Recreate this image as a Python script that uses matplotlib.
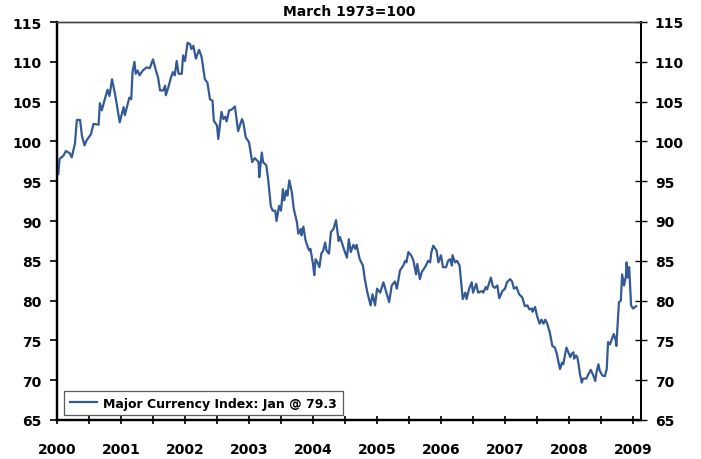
import numpy as np
import matplotlib
matplotlib.use("Agg")
import matplotlib.pyplot as plt
from matplotlib.ticker import MultipleLocator

# weekly-ish readings, decimal years
years = [2000.02, 2000.04, 2000.10, 2000.14, 2000.20, 2000.23, 2000.28, 2000.31, 2000.36, 2000.39,
         2000.43, 2000.46, 2000.53, 2000.57, 2000.65, 2000.67, 2000.70, 2000.74, 2000.79, 2000.82,
         2000.86, 2000.91, 2000.98, 2001.04, 2001.06, 2001.13, 2001.16, 2001.18, 2001.21, 2001.23,
         2001.26, 2001.29, 2001.34, 2001.40, 2001.45, 2001.50, 2001.55, 2001.58, 2001.61, 2001.66,
         2001.69, 2001.70, 2001.74, 2001.78, 2001.81, 2001.84, 2001.87, 2001.90, 2001.95, 2001.97,
         2002.00, 2002.04, 2002.08, 2002.10, 2002.13, 2002.17, 2002.22, 2002.26, 2002.31, 2002.35,
         2002.39, 2002.43, 2002.45, 2002.50, 2002.52, 2002.57, 2002.60, 2002.63, 2002.65, 2002.69,
         2002.73, 2002.78, 2002.83, 2002.89, 2002.91, 2002.95, 2003.00, 2003.05, 2003.09, 2003.15,
         2003.16, 2003.20, 2003.22, 2003.27, 2003.30, 2003.34, 2003.37, 2003.41, 2003.43, 2003.47,
         2003.50, 2003.53, 2003.55, 2003.58, 2003.60, 2003.63, 2003.67, 2003.70, 2003.75, 2003.77,
         2003.81, 2003.82, 2003.85, 2003.88, 2003.91, 2003.94, 2003.96, 2004.00, 2004.02, 2004.04,
         2004.07, 2004.10, 2004.13, 2004.16, 2004.19, 2004.21, 2004.25, 2004.28, 2004.32, 2004.36,
         2004.40, 2004.42, 2004.45, 2004.49, 2004.53, 2004.56, 2004.59, 2004.63, 2004.66, 2004.68,
         2004.71, 2004.73, 2004.78, 2004.81, 2004.85, 2004.90, 2004.93, 2004.97, 2005.00, 2005.05,
         2005.10, 2005.14, 2005.19, 2005.23, 2005.28, 2005.31, 2005.36, 2005.41, 2005.44, 2005.46,
         2005.49, 2005.54, 2005.57, 2005.61, 2005.63, 2005.67, 2005.70, 2005.75, 2005.80, 2005.83,
         2005.85, 2005.88, 2005.93, 2005.96, 2006.00, 2006.03, 2006.08, 2006.11, 2006.14, 2006.17,
         2006.18, 2006.22, 2006.25, 2006.29, 2006.34, 2006.38, 2006.40, 2006.44, 2006.48, 2006.50,
         2006.55, 2006.58, 2006.64, 2006.66, 2006.70, 2006.72, 2006.78, 2006.81, 2006.84, 2006.88,
         2006.91, 2006.96, 2007.00, 2007.03, 2007.08, 2007.11, 2007.14, 2007.18, 2007.22, 2007.27,
         2007.31, 2007.35, 2007.38, 2007.42, 2007.43, 2007.47, 2007.50, 2007.54, 2007.57, 2007.60,
         2007.63, 2007.66, 2007.70, 2007.74, 2007.78, 2007.81, 2007.83, 2007.86, 2007.89, 2007.91,
         2007.94, 2007.96, 2007.99, 2008.02, 2008.04, 2008.07, 2008.08, 2008.11, 2008.13, 2008.15,
         2008.17, 2008.20, 2008.22, 2008.27, 2008.30, 2008.34, 2008.38, 2008.41, 2008.43, 2008.46,
         2008.48, 2008.52, 2008.56, 2008.59, 2008.61, 2008.64, 2008.68, 2008.70, 2008.73, 2008.74,
         2008.78, 2008.81, 2008.83, 2008.86, 2008.89, 2008.90, 2008.92, 2008.94, 2008.97, 2009.00,
         2009.05]

index = [95.9, 97.8, 98.2, 98.8, 98.5, 98.0, 99.7, 102.7, 102.7, 100.7,
         99.5, 100.1, 100.9, 102.2, 102.1, 104.8, 103.9, 105.1, 106.5, 105.7,
         107.8, 105.8, 102.4, 104.3, 103.3, 105.5, 105.3, 108.7, 110.0, 108.5,
         108.9, 108.3, 108.9, 109.3, 109.2, 110.3, 108.8, 108.0, 106.4, 106.4,
         107.0, 105.8, 106.8, 108.0, 108.7, 108.3, 110.1, 108.5, 108.5, 110.8,
         110.1, 112.4, 112.2, 111.6, 112.0, 110.4, 111.5, 110.6, 107.8, 107.4,
         105.3, 105.1, 102.6, 102.0, 100.3, 103.7, 102.8, 103.1, 102.5, 103.9,
         104.0, 104.4, 101.3, 102.8, 102.4, 100.5, 99.9, 97.4, 97.9, 97.4,
         95.5, 98.6, 97.4, 97.0, 95.2, 91.9, 91.3, 91.3, 90.0, 91.9,
         91.3, 94.0, 92.6, 93.8, 93.2, 95.1, 93.6, 91.5, 89.8, 88.4,
         89.0, 88.2, 89.3, 87.7, 86.9, 86.3, 86.5, 84.6, 83.2, 85.2,
         84.8, 84.2, 85.9, 86.3, 87.3, 86.3, 85.9, 88.6, 89.0, 90.1,
         87.5, 88.0, 87.3, 86.3, 85.4, 87.7, 86.1, 87.0, 86.5, 87.0,
         85.9, 85.2, 84.4, 82.7, 81.0, 79.4, 80.8, 79.4, 81.5, 81.0,
         82.3, 81.2, 79.8, 81.9, 82.4, 81.5, 83.8, 84.4, 85.0, 84.8,
         86.1, 85.6, 85.0, 83.3, 84.6, 82.7, 83.6, 84.2, 85.0, 84.8,
         86.1, 86.9, 86.3, 84.8, 85.7, 84.2, 84.2, 85.0, 85.2, 84.4,
         85.7, 84.8, 85.0, 84.4, 80.2, 81.0, 80.2, 81.5, 82.3, 81.0,
         82.1, 81.0, 81.2, 81.0, 81.7, 81.4, 82.9, 81.8, 81.6, 81.9,
         80.3, 81.2, 81.5, 82.3, 82.7, 82.4, 81.5, 81.7, 80.8, 80.4,
         79.3, 79.4, 78.9, 79.0, 78.6, 79.2, 78.1, 77.1, 77.6, 77.1,
         77.6, 77.1, 76.0, 74.3, 74.1, 73.3, 72.5, 71.4, 72.2, 72.0,
         73.3, 74.1, 73.5, 72.9, 73.3, 73.5, 72.7, 73.1, 72.9, 72.0,
         70.8, 69.7, 70.2, 70.2, 70.7, 71.3, 70.6, 69.9, 71.0, 72.0,
         71.2, 70.6, 70.5, 71.4, 74.8, 74.5, 75.4, 75.8, 75.0, 74.3,
         79.8, 80.0, 83.3, 81.9, 83.1, 84.8, 82.9, 84.2, 79.4, 79.0,
         79.3]

year_ticks = list(range(2000, 2010))
title = "March 1973=100"
label = "Major Currency Index: Jan @ 79.3"

plt.rcParams['font.family'] = ['DejaVu Sans']
plt.rcParams['font.weight'] = 'bold'

fig = plt.figure(figsize=(7.01, 4.60), dpi=100)
ax = fig.add_axes([57 / 701, 39 / 460, 584 / 701, 398 / 460])

ax.plot(years, index, color='#335A96', lw=1.6, label=label)

ax.set_xlim(2000, 2009.125)
ax.set_ylim(65, 115)
ax.set_yticks(range(65, 116, 5))
ax.set_xticks(year_ticks)
ax.set_xticklabels([str(y) for y in year_ticks])
ax.xaxis.set_minor_locator(MultipleLocator(0.5))

ax.tick_params(axis='y', direction='out', length=5, width=1.2, labelsize=10, pad=6)
ax.tick_params(axis='x', which='both', direction='inout', length=6, width=1.2,
               labelsize=10, pad=13)

ax2 = ax.twinx()
ax2.set_ylim(65, 115)
ax2.set_yticks(range(65, 116, 5))
ax2.tick_params(axis='y', direction='inout', length=8, width=1.0, labelsize=10, pad=6)

for a in (ax, ax2):
    a.spines['left'].set_linewidth(1.6)
    a.spines['bottom'].set_linewidth(1.6)
    a.spines['right'].set_linewidth(1.3)
    a.spines['top'].set_linewidth(1.0)
    a.spines['top'].set_color('#444444')

ax.set_title(title, fontsize=10, fontweight='bold', pad=5)

leg = ax.legend(loc='lower left', bbox_to_anchor=(0.012, 0.012), fontsize=9,
                frameon=True, fancybox=False, handlelength=2.2, borderpad=0.45,
                handletextpad=0.5, borderaxespad=0)
leg.get_frame().set_edgecolor('#333333')
leg.get_frame().set_linewidth(0.9)

fig.savefig("out.png", dpi=100)
